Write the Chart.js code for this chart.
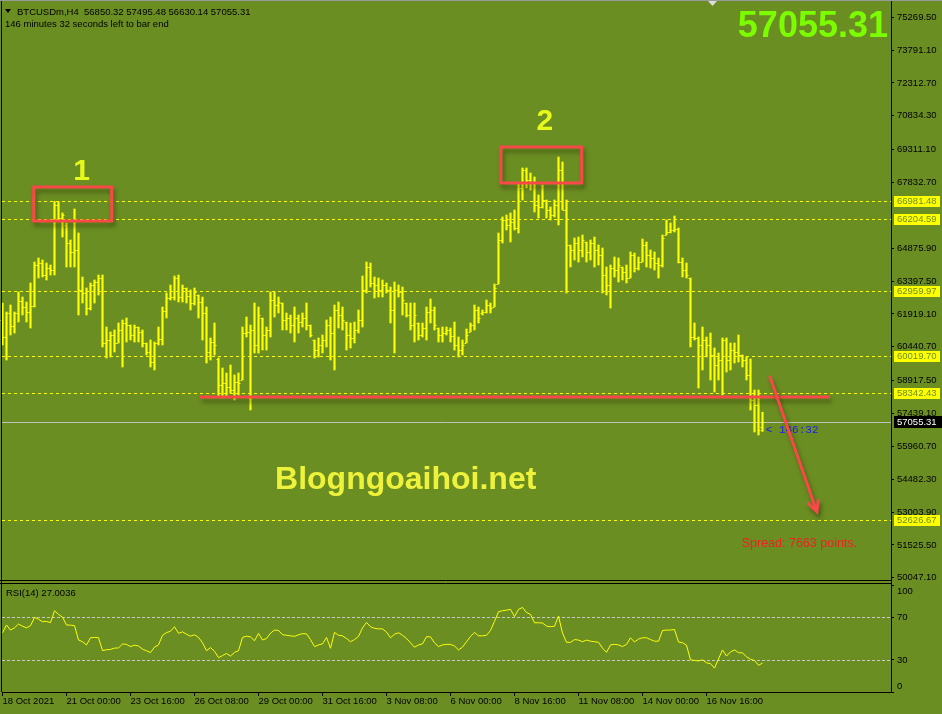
<!DOCTYPE html>
<html>
<head>
<meta charset="utf-8">
<script src="https://cdn.jsdelivr.net/npm/chart.js@4.4.1/dist/chart.umd.min.js"></script>
<style>
html, body { margin: 0; padding: 0; background: #6b8e23; }
#wrap { position: relative; width: 942px; height: 714px; overflow: hidden; }
canvas { position: absolute; left: 0; display: block; }
#main { top: 0; }
#rsi { top: 582px; }
</style>
</head>
<body>
<div id="wrap">
<canvas id="main" width="942" height="582"></canvas>
<canvas id="rsi" width="942" height="132"></canvas>
</div>
<script>
// BTCUSDm H4, one bar every 4 hours from 18 Oct 2021 08:00
const timeLabels = ['18 Oct 2021', '21 Oct 00:00', '23 Oct 16:00', '26 Oct 08:00', '29 Oct 00:00', '31 Oct 16:00',
  '3 Nov 08:00', '6 Nov 00:00', '8 Nov 16:00', '11 Nov 08:00', '14 Nov 00:00', '16 Nov 16:00'];
const timeTickBars = [0, 16, 32, 48, 64, 80, 96, 112, 128, 144, 160, 176];

const priceTicks = [75269.50, 73791.10, 72312.70, 70834.30, 69311.10, 67832.70, 64875.90, 63397.50, 61919.10,
  60440.70, 58917.50, 57439.10, 55960.70, 54482.30, 53003.90, 51525.50, 50047.10];
const levelPrices = [66981.48, 66204.59, 62959.97, 60019.70, 58342.43, 52626.67];
const lastPrice = 57055.31;
const rsiTicks = [100, 70, 30, 0];
const rsiLevels = [70, 30];

const opens = [
  61646, 60881, 61961, 61376, 61961, 62501, 62231, 62006, 62276, 64121,
  64211, 63671, 63986, 63896, 66821, 66236, 65921, 65111, 64706, 64796,
  62996, 62861, 62186, 63221, 63356, 63536, 60611, 60746, 60971, 60611,
  61196, 61511, 61421, 60971, 61331, 61106, 60611, 60206, 59756, 60611,
  60791, 62051, 62636, 62681, 63536, 62681, 63086, 62726, 62411, 62771,
  62456, 61961, 60206, 60656, 59891, 58721, 58811, 58631, 58496, 58856,
  58946, 61061, 61106, 61196, 60521, 61736, 60971, 61196, 62546, 62321,
  62411, 61646, 61736, 61421, 61736, 61556, 61736, 61421, 60746, 60296,
  60521, 60746, 61421, 61061, 62096, 61871, 61556, 60971, 60836, 61196,
  61646, 62996, 64031, 63311, 63221, 62996, 63221, 62996, 62096, 62996,
  62906, 62411, 61871, 61421, 61511, 60971, 61286, 62006, 62096, 61286,
  60971, 61061, 61196, 60926, 60521, 60296, 60611, 61106, 61421, 62096,
  61961, 62006, 62321, 62231, 63266, 65246, 66146, 65921, 66056, 65786,
  67586, 68396, 67946, 67811, 66821, 66731, 67046, 66596, 66371, 66821,
  68396, 66596, 65021, 64796, 65111, 64796, 65156, 64706, 65111, 64796,
  64571, 63671, 63221, 63986, 63896, 64031, 63806, 63536, 64571, 63986,
  64256, 65021, 64571, 64436, 64211, 64121, 65471, 65606, 65696, 65741,
  64256, 63896, 63536, 60881, 60836, 60521, 60746, 60521, 60071, 59621,
  59846, 60746, 59846, 60296, 60206, 60071, 59846, 59171, 58046, 57821,
  56850.32
];
const highs = [
  62411, 62006, 62321, 62006, 62906, 62681, 62456, 63311, 64256, 64436,
  64346, 64211, 64121, 66981, 66960, 66461, 66011, 65246, 66641, 65561,
  63581, 63086, 63311, 63446, 63671, 63671, 61331, 61106, 61196, 61511,
  61646, 61736, 61421, 61421, 61331, 61196, 60611, 60746, 60656, 61331,
  62231, 62861, 63221, 63626, 63671, 63221, 63086, 62996, 63086, 62771,
  62681, 62231, 60836, 61511, 59936, 59486, 59261, 59621, 59171, 59261,
  61331, 61781, 61421, 62411, 62231, 61736, 61331, 62906, 62906, 62681,
  62411, 61961, 61871, 62231, 61871, 61961, 62411, 61421, 60746, 60836,
  60971, 61646, 61781, 62321, 62456, 62231, 61556, 61511, 61556, 62096,
  63626, 64256, 64211, 63581, 63536, 63446, 63311, 63131, 63356, 63221,
  63131, 62411, 62411, 62411, 61511, 61511, 62231, 62591, 62231, 61286,
  61331, 61331, 61286, 61556, 60881, 60746, 61241, 61511, 62321, 62231,
  62096, 62546, 62411, 63266, 65561, 66281, 66371, 66461, 66596, 67811,
  68486, 68486, 68261, 68081, 67271, 67721, 67046, 66731, 67046, 68981,
  68756, 67046, 65021, 65336, 65381, 65471, 65156, 65246, 65381, 65021,
  64886, 64031, 64121, 64481, 64436, 64031, 64121, 64706, 64661, 64481,
  65291, 65156, 64796, 64706, 64436, 65471, 66146, 66011, 66326, 65786,
  64436, 64211, 63536, 61511, 60881, 61331, 60881, 61061, 60386, 60161,
  60836, 60836, 60611, 60611, 60971, 60071, 59981, 59891, 58496, 58496,
  57495.48
];
const lows = [
  60521, 59846, 60971, 61061, 61556, 61871, 61556, 61286, 62231, 63536,
  63581, 63446, 63671, 63671, 66146, 65381, 64031, 64031, 64031, 61871,
  62411, 61871, 62096, 62411, 62771, 60431, 59936, 59981, 60206, 60611,
  59531, 60656, 60746, 60656, 60656, 60431, 60071, 59531, 59396, 60521,
  60521, 61736, 62546, 62546, 62456, 62456, 62411, 62096, 62321, 61736,
  60746, 59711, 59846, 60071, 58181, 58136, 58181, 58361, 58046, 58271,
  58946, 60881, 57596, 60161, 60161, 60296, 60296, 60881, 61781, 61961,
  61196, 61196, 61061, 60656, 61061, 61331, 61196, 60881, 59936, 59981,
  60161, 60431, 59846, 59396, 61286, 61196, 60296, 60386, 60611, 61061,
  61331, 62861, 63131, 62636, 62681, 62681, 62861, 61511, 60161, 62681,
  61871, 61781, 61196, 60656, 60746, 60881, 60746, 61511, 61196, 60656,
  60656, 60971, 60656, 60296, 59981, 60071, 60611, 61106, 61196, 61511,
  61871, 61961, 61961, 62231, 63266, 65111, 65696, 65156, 65696, 65561,
  67046, 67586, 67496, 66506, 66236, 66686, 66236, 66146, 66281, 65921,
  66596, 62861, 64031, 64346, 64256, 64481, 64256, 64346, 64031, 64121,
  62861, 62771, 62186, 63581, 63356, 63446, 63311, 63536, 63806, 63896,
  64256, 64031, 63986, 63896, 63536, 64031, 65471, 65561, 65606, 64211,
  63581, 63536, 60431, 60746, 58586, 59396, 59981, 58946, 58406, 58946,
  58271, 59306, 59396, 59711, 59756, 59531, 58946, 57596, 56606, 56471,
  56630.14
];
const closes = [
  60881, 61961, 61376, 61961, 62501, 62231, 62006, 62276, 64121, 64211,
  63671, 63986, 63896, 66821, 66236, 66371, 65111, 64706, 64796, 62996,
  62861, 62186, 63221, 63356, 63536, 60611, 60746, 60971, 60611, 61196,
  61511, 61421, 60971, 61331, 61106, 60611, 60206, 59756, 60611, 60791,
  62051, 62636, 62681, 63536, 62681, 63086, 62726, 62411, 62906, 62456,
  61961, 60206, 60656, 60521, 58721, 58811, 58631, 58496, 58856, 58811,
  61061, 61106, 61196, 60521, 61871, 60971, 61196, 62546, 62321, 62456,
  61646, 61736, 61421, 61736, 61556, 61736, 61421, 60971, 60296, 60521,
  60746, 61421, 61061, 62096, 61871, 61646, 60971, 60836, 61196, 61646,
  62996, 64031, 63311, 63221, 62996, 63221, 62996, 62096, 62996, 62906,
  62546, 61871, 61421, 61871, 60971, 61286, 62006, 62096, 61421, 60971,
  61061, 61196, 60926, 60521, 60296, 60521, 60971, 61421, 62096, 61736,
  62006, 62321, 62186, 63086, 65246, 66146, 65921, 66056, 65786, 67586,
  68396, 67946, 67811, 66821, 66731, 67046, 66596, 66371, 66821, 68396,
  66596, 65021, 64796, 65111, 64796, 65246, 64706, 65111, 64796, 64571,
  63671, 63221, 63986, 63896, 64121, 63806, 63536, 64571, 63986, 64256,
  65021, 64571, 64436, 64211, 64121, 65336, 65606, 65696, 65741, 64256,
  63896, 63671, 60881, 60836, 60521, 60746, 60521, 60071, 59621, 59846,
  60746, 59846, 60296, 60206, 60071, 59846, 59171, 58046, 57821, 56696,
  57055.31
];
const rsiValues = [
  55.4, 62.6, 57.9, 60, 63.5, 61.5, 60, 62, 69.7, 68,
  65.7, 66, 64.8, 75.9, 72.5, 70, 62.6, 62.5, 62, 48.6,
  47, 44, 50.7, 51, 50.7, 38.7, 39.5, 39.8, 41, 41.2,
  44.9, 44.5, 42.4, 43.7, 43, 40, 38.5, 36.8, 42, 44,
  53, 55.5, 56.8, 61, 54.8, 56.2, 54, 52.2, 53.5, 51,
  46, 38.6, 41.5, 38, 32.1, 34, 36, 33.6, 37, 38.6,
  51, 52.2, 51.5, 47.9, 54.8, 48.6, 50, 55, 57.9, 57.5,
  53.6, 53, 52.5, 52, 53.5, 54.5, 54.3, 49, 42.4, 44,
  45, 51, 40.9, 55.7, 53, 52.5, 50, 47, 49, 52,
  60, 65, 61, 59.5, 59, 59, 56, 50.7, 54, 55.4,
  53, 50, 46, 41.8, 44, 45, 51.7, 51.5, 46, 42.4,
  44, 44.5, 44.5, 43, 39.3, 42, 47, 52, 55.7, 52.5,
  52.5, 53, 57.5, 66, 75, 76, 76.5, 77.2, 70.5, 77.2,
  79, 74.3, 72.5, 64.7, 64.7, 64.5, 61.6, 61, 61.5, 70.9,
  55, 46.4, 46.4, 49, 48.5, 47, 48.5, 47.5, 47, 46.5,
  41, 37.1, 44, 44.5, 44, 42.5, 44.5, 50.7, 46.7, 49.5,
  50.7, 50.7, 49, 47.5, 47.5, 57.5, 57.9, 57.9, 58.4, 46.7,
  46, 43.7, 30, 29.5, 29.1, 30, 27.3, 26.5, 22.3, 31,
  39.3, 33.6, 37.5, 39.3, 36.8, 36.5, 33, 30.5, 29.5, 25,
  27.0036
];

// annotations drawn on the chart (bar index, price)
const notes = {
  box1: [7.8, 67631, 27.3, 66101],
  box2: [124.6, 69431, 144.8, 67811],
  support: [49.3, 58181, 206.8, 58181],
  arrow: [191.8, 59126, 203.6, 53006],
  label1: [19.8, 68306],
  label2: [135.6, 70556],
  site: [100.8, 54446],
  timer: [190.8, 56696],
  spread: [184.8, 51566]
};

const FONT = '"Liberation Sans", Arial, sans-serif';
const BG = '#6b8e23';
const YEL = '#ffff00';
const RED = '#f84848';
const xMin = -0.125, xMax = 222.125;
const last = closes.length - 1;

function axisY(ticksList, extra) {
  return Object.assign({
    position: 'right',
    afterBuildTicks: s => { s.ticks = ticksList.map(v => ({value: v})); },
    afterFit: s => { s.width = 51; s.paddingTop = 0; s.paddingBottom = 0; },
    grid: {drawOnChartArea: false, color: '#000', tickLength: 3},
    border: {color: '#000'}
  }, extra);
}

/* price panel */
const pricePanel = {
  id: 'pricePanel',
  beforeDatasetsDraw(chart) {
    const {ctx, chartArea: a, scales: {y}} = chart;
    ctx.save();
    ctx.lineWidth = 1;
    ctx.strokeStyle = YEL;
    ctx.setLineDash([3, 3]);
    levelPrices.forEach(p => {
      const py = Math.round(y.getPixelForValue(p)) + 0.5;
      ctx.beginPath(); ctx.moveTo(a.left, py); ctx.lineTo(a.right, py); ctx.stroke();
    });
    ctx.setLineDash([]);
    ctx.strokeStyle = '#c0c0c0';
    const lp = Math.round(y.getPixelForValue(lastPrice)) + 0.5;
    ctx.beginPath(); ctx.moveTo(a.left, lp); ctx.lineTo(a.right, lp); ctx.stroke();
    ctx.restore();
  },
  afterDatasetsDraw(chart) {
    const {ctx, scales: {x, y}} = chart;
    ctx.save();
    // open / close ticks
    ctx.strokeStyle = YEL;
    ctx.lineWidth = 1;
    ctx.beginPath();
    opens.forEach((o, i) => {
      const px = x.getPixelForValue(i);
      const yo = Math.round(y.getPixelForValue(o)) + 0.5;
      const yc = Math.round(y.getPixelForValue(closes[i])) + 0.5;
      ctx.moveTo(px - 2, yo); ctx.lineTo(px - 0.5, yo);
      ctx.moveTo(px + 0.5, yc); ctx.lineTo(px + 2, yc);
    });
    ctx.stroke();

    const X = v => x.getPixelForValue(v);
    const Y = v => y.getPixelForValue(v);

    // text objects
    ctx.textBaseline = 'middle';
    ctx.textAlign = 'center';
    ctx.fillStyle = '#e6f91a';
    ctx.font = 'bold 30px ' + FONT;
    ctx.fillText('1', X(notes.label1[0]), Y(notes.label1[1]));
    ctx.fillText('2', X(notes.label2[0]), Y(notes.label2[1]));
    ctx.fillStyle = '#eef23a';
    ctx.font = 'bold 32px ' + FONT;
    ctx.fillText('Blogngoaihoi.net', X(notes.site[0]), Y(notes.site[1]));

    ctx.textAlign = 'left';
    ctx.fillStyle = '#1a1aff';
    ctx.font = '11px "Liberation Mono", monospace';
    ctx.fillText('< 146:32', X(notes.timer[0]), Y(notes.timer[1]));
    ctx.fillStyle = '#ee2222';
    ctx.font = '12.5px ' + FONT;
    ctx.fillText('Spread: 7663 points.', X(notes.spread[0]), Y(notes.spread[1]));

    // red drawings
    ctx.shadowColor = 'rgba(40,50,0,0.55)';
    ctx.shadowBlur = 4;
    ctx.shadowOffsetX = 2;
    ctx.shadowOffsetY = 4;
    ctx.strokeStyle = RED;
    ctx.lineWidth = 3;
    [notes.box1, notes.box2].forEach(b => {
      ctx.strokeRect(X(b[0]), Y(b[1]), X(b[2]) - X(b[0]), Y(b[3]) - Y(b[1]));
    });
    const s = notes.support;
    ctx.beginPath(); ctx.moveTo(X(s[0]), Y(s[1])); ctx.lineTo(X(s[2]), Y(s[3])); ctx.stroke();
    const ar = notes.arrow;
    const x1 = X(ar[0]), y1 = Y(ar[1]), x2 = X(ar[2]), y2 = Y(ar[3]);
    const ang = Math.atan2(y2 - y1, x2 - x1);
    ctx.beginPath();
    ctx.moveTo(x1, y1); ctx.lineTo(x2, y2);
    ctx.moveTo(x2 - 13 * Math.cos(ang - 0.45), y2 - 13 * Math.sin(ang - 0.45));
    ctx.lineTo(x2, y2);
    ctx.lineTo(x2 - 13 * Math.cos(ang + 0.45), y2 - 13 * Math.sin(ang + 0.45));
    ctx.stroke();
    ctx.restore();
  },
  afterDraw(chart) {
    const {ctx, chartArea: a, scales: {y}} = chart;
    ctx.save();
    ctx.textBaseline = 'middle';
    ctx.textAlign = 'left';
    ctx.font = '9.5px ' + FONT;
    levelPrices.forEach(p => {
      const py = Math.round(y.getPixelForValue(p));
      ctx.fillStyle = YEL;
      ctx.fillRect(a.right + 3, py - 5, 46, 11);
      ctx.fillStyle = BG;
      ctx.fillText(p.toFixed(2), a.right + 6, py + 0.5);
    });
    const lp = Math.round(y.getPixelForValue(lastPrice));
    ctx.fillStyle = '#000';
    ctx.fillRect(a.right + 3, lp - 6, 48, 12);
    ctx.fillStyle = '#fff';
    ctx.fillText(lastPrice.toFixed(2), a.right + 6, lp + 0.5);

    // header
    ctx.fillStyle = '#000';
    ctx.beginPath(); ctx.moveTo(5, 9); ctx.lineTo(11, 9); ctx.lineTo(8, 13); ctx.closePath(); ctx.fill();
    ctx.fillText('BTCUSDm,H4  ' + [opens[last], highs[last], lows[last], closes[last]].map(v => v.toFixed(2)).join(' '), 17, 12);
    ctx.fillText('146 minutes 32 seconds left to bar end', 5, 24);

    ctx.fillStyle = '#7cfc00';
    ctx.font = 'bold 36px ' + FONT;
    ctx.textAlign = 'right';
    ctx.fillText(closes[last].toFixed(2), 888, 27);

    ctx.fillStyle = '#dcdcdc';
    ctx.beginPath(); ctx.moveTo(708, 1); ctx.lineTo(717, 1); ctx.lineTo(712.5, 6); ctx.closePath(); ctx.fill();

    // frame
    ctx.lineWidth = 1;
    ctx.strokeStyle = '#9a9a9a';
    ctx.beginPath(); ctx.moveTo(0, 0.5); ctx.lineTo(942, 0.5); ctx.stroke();
    ctx.strokeStyle = '#000';
    ctx.beginPath();
    ctx.moveTo(1.5, 1); ctx.lineTo(1.5, 582);
    ctx.moveTo(a.right + 0.5, 1); ctx.lineTo(a.right + 0.5, 582);
    ctx.moveTo(0, 580.5); ctx.lineTo(a.right, 580.5);
    ctx.stroke();
    ctx.restore();
  }
};

new Chart(document.getElementById('main'), {
  type: 'bar',
  data: {
    datasets: [{
      label: 'BTCUSDm',
      data: highs.map((h, i) => ({x: i, y: [lows[i], h]})),
      backgroundColor: YEL,
      barThickness: 1.5
    }]
  },
  options: {
    responsive: false,
    animation: false,
    layout: {padding: {left: 2, top: 4, bottom: 2, right: 0}},
    plugins: {legend: {display: false}, tooltip: {enabled: false}},
    scales: {
      x: {type: 'linear', min: xMin, max: xMax, display: false, offset: false, grid: {offset: false}},
      y: axisY(priceTicks, {
        min: 49946, max: 75866,
        ticks: {autoSkip: false, padding: 3, color: '#000', font: {family: FONT, size: 9.5},
          callback: v => v.toFixed(2)}
      })
    }
  },
  plugins: [pricePanel]
});

/* RSI panel */
const rsiPanel = {
  id: 'rsiPanel',
  beforeDatasetsDraw(chart) {
    const {ctx, chartArea: a, scales: {y}} = chart;
    ctx.save();
    ctx.strokeStyle = '#c8c8c8';
    ctx.lineWidth = 1;
    ctx.setLineDash([3, 2]);
    rsiLevels.forEach(v => {
      const py = Math.round(y.getPixelForValue(v)) + 0.5;
      ctx.beginPath(); ctx.moveTo(a.left, py); ctx.lineTo(a.right, py); ctx.stroke();
    });
    ctx.restore();
  },
  afterDraw(chart) {
    const {ctx, chartArea: a, scales: {y}} = chart;
    ctx.save();
    ctx.fillStyle = '#000';
    ctx.font = '9.5px ' + FONT;
    ctx.textBaseline = 'middle';
    ctx.fillText('RSI(14) ' + rsiValues[last].toFixed(4), 6, 11);
    // end labels sit inside the panel
    ctx.fillText('100', a.right + 6, y.getPixelForValue(100) + 6);
    ctx.fillText('0', a.right + 6, y.getPixelForValue(0) - 6);
    ctx.strokeStyle = '#000';
    ctx.lineWidth = 1;
    ctx.beginPath();
    ctx.moveTo(0, 1.5); ctx.lineTo(a.right, 1.5);
    ctx.moveTo(1.5, 0); ctx.lineTo(1.5, a.bottom);
    ctx.moveTo(a.right + 0.5, 0); ctx.lineTo(a.right + 0.5, a.top);
    ctx.stroke();
    ctx.restore();
  }
};

new Chart(document.getElementById('rsi'), {
  type: 'line',
  data: {
    datasets: [{
      label: 'RSI(14)',
      data: rsiValues.map((v, i) => ({x: i, y: v})),
      borderColor: YEL,
      borderWidth: 1,
      pointRadius: 0,
      tension: 0
    }]
  },
  options: {
    responsive: false,
    animation: false,
    layout: {padding: {left: 2, top: 3, bottom: 0, right: 0}},
    plugins: {legend: {display: false}, tooltip: {enabled: false}},
    scales: {
      x: {
        type: 'linear', min: xMin, max: xMax, position: 'bottom',
        afterBuildTicks: s => { s.ticks = timeTickBars.map(v => ({value: v})); },
        afterFit: s => { s.height = 22; s.paddingLeft = 0; s.paddingRight = 0; },
        ticks: {autoSkip: false, maxRotation: 0, align: 'start', padding: 0, color: '#000',
          font: {family: FONT, size: 9.5}, callback: (v, i) => timeLabels[i]},
        grid: {drawOnChartArea: false, color: '#000', tickLength: 4},
        border: {color: '#000'}
      },
      y: axisY(rsiTicks, {
        min: 0, max: 100,
        ticks: {autoSkip: false, padding: 3, color: '#000', font: {family: FONT, size: 9.5},
          callback: v => (v === 100 || v === 0) ? '' : String(v)}
      })
    }
  },
  plugins: [rsiPanel]
});
</script>
</body>
</html>
